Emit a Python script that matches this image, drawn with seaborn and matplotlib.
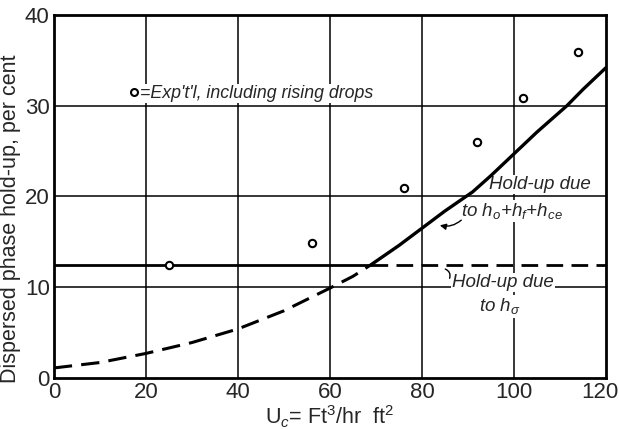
import matplotlib
matplotlib.use("Agg")
import matplotlib.pyplot as plt
import matplotlib.transforms as mtransforms
import seaborn as sns
import pandas as pd

# experimental points (hold-up incl. rising drops)
exp_x = [25, 56, 76, 92, 102, 114]
exp_y = [12.5, 14.9, 20.9, 26.0, 30.9, 35.9]

# hold-up due to h_o + h_f + h_ce  (dashed below the h_sigma line, solid above)
curve_dash_x = [0, 10, 20, 30, 40, 50, 60, 65, 69]
curve_dash_y = [1.1, 1.7, 2.7, 3.9, 5.4, 7.4, 9.9, 11.2, 12.5]
curve_solid_x = [69, 75, 80, 85, 91, 95, 100, 105, 111.5, 115, 120]
curve_solid_y = [12.5, 14.6, 16.5, 18.4, 20.5, 22.3, 24.7, 27.1, 30.0, 31.8, 34.2]

# hold-up due to h_sigma (constant)
h_sigma = 12.5
h_sigma_break = 69

x_ticks = [0, 20, 40, 60, 80, 100, 120]
y_ticks = [0, 10, 20, 30, 40]

sns.set_style("white")
plt.rcParams["font.family"] = ["Liberation Sans", "DejaVu Sans"]
plt.rcParams["mathtext.fontset"] = "custom"
plt.rcParams["mathtext.rm"] = "Liberation Sans"
plt.rcParams["mathtext.it"] = "Liberation Sans:italic"

fig = plt.figure(figsize=(6.19, 4.29), dpi=100)
ax = fig.add_axes([0.087, 0.119, 0.892, 0.846])

# grid lines
for xv in x_ticks[1:-1]:
    ax.axvline(xv, color="black", lw=1.1, zorder=1)
for yv in y_ticks[1:-1]:
    ax.axhline(yv, color="black", lw=1.1, zorder=1)

df_dash = pd.DataFrame({"x": curve_dash_x, "y": curve_dash_y})
df_solid = pd.DataFrame({"x": curve_solid_x, "y": curve_solid_y})
sns.lineplot(data=df_dash, x="x", y="y", ax=ax, color="black", lw=2.2,
             linestyle=(0, (6, 3)), zorder=4)
sns.lineplot(data=df_solid, x="x", y="y", ax=ax, color="black", lw=2.4, zorder=4)

ax.plot([0, h_sigma_break], [h_sigma, h_sigma], color="black", lw=2.0, zorder=4)
ax.plot([h_sigma_break, 120], [h_sigma, h_sigma], color="black", lw=2.0,
        linestyle=(0, (6, 3)), zorder=4)

df_exp = pd.DataFrame({"x": exp_x, "y": exp_y})
sns.scatterplot(data=df_exp, x="x", y="y", ax=ax, marker="o", s=28,
                facecolor="white", edgecolor="black", linewidth=1.5, zorder=5)

box = dict(facecolor="white", edgecolor="none", pad=1.0)
ax.plot([17.5], [31.5], marker="o", ms=5, mfc="white", mec="black", mew=1.5, zorder=6)
ax.text(18.8, 30.4, "=Exp't'l, including rising drops", fontsize=12.8,
        style="italic", va="bottom", ha="left", zorder=3,
        bbox=dict(facecolor="white", edgecolor="none", pad=0.5))

ax.text(94.5, 21.3, "Hold-up due", fontsize=13.5, style="italic",
        ha="left", va="center", zorder=3, bbox=box)
ax.text(88.5, 18.4, "to h$_o$+h$_f$+h$_{ce}$", fontsize=13.5, style="italic",
        ha="left", va="center", zorder=3, bbox=box)
ax.annotate("", xy=(83.3, 16.9), xytext=(89.0, 17.6),
            arrowprops=dict(arrowstyle="-|>", color="black", lw=1.0,
                            connectionstyle="arc3,rad=-0.3", mutation_scale=9),
            zorder=6)

ax.text(86.5, 10.5, "Hold-up due", fontsize=13.5, style="italic",
        ha="left", va="center", zorder=3, bbox=box)
ax.text(92.5, 7.9, "to h$_\\sigma$", fontsize=13.5, style="italic",
        ha="left", va="center", zorder=3, bbox=box)
ax.annotate("", xy=(84.5, 12.1), xytext=(85.8, 10.7),
            arrowprops=dict(arrowstyle="-", color="black", lw=1.0,
                            connectionstyle="arc3,rad=0.6"), zorder=6)

ax.set_xlim(0, 120)
ax.set_ylim(0, 40)
ax.set_xticks(x_ticks)
ax.set_yticks(y_ticks)
ax.tick_params(length=0, labelsize=16, pad=3)
# pull the last x label inward so it stays inside the figure
last = ax.get_xticklabels()[-1]
last.set_transform(last.get_transform() +
                   mtransforms.ScaledTranslation(-6 / 100, 0, fig.dpi_scale_trans))
for s in ax.spines.values():
    s.set_linewidth(2.0)
    s.set_color("black")
    s.set_visible(True)

ax.set_xlabel("U$_c$= Ft$^3$/hr  ft$^2$", fontsize=15.5, labelpad=0)
ax.set_ylabel("Dispersed phase hold-up, per cent", fontsize=15.5)
ax.yaxis.set_label_coords(-0.06, 0.44)

fig.savefig("out.png", dpi=100)
